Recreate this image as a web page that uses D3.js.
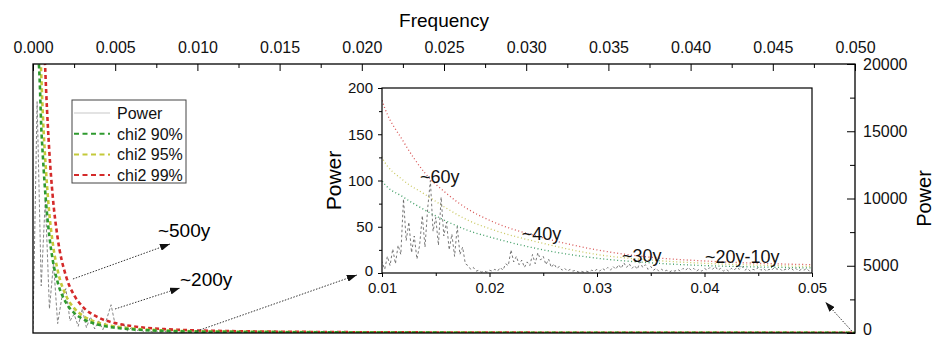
<!DOCTYPE html>
<html>
<head>
<meta charset="utf-8">
<script src="https://cdn.jsdelivr.net/npm/d3@7"></script>
<style>
  body { margin: 0; background: #fff; }
  svg { display: block; font-family: 'Liberation Sans', Arial, sans-serif; }
</style>
</head>
<body>
<div id="chart"></div>
<script>
// power spectrum, one value every freqStep (0 .. 0.05)
const freqStep = 0.00025
const power = [
  300, 17200, 3500, 10000, 1800, 5200, 700, 2600,
  3300, 900, 1400, 500, 1800, 400, 1200, 300,
  900, 250, 1100, 2100, 600, 350, 700, 150,
  400, 120, 300, 90, 220, 80, 160, 60,
  130, 40, 90, 30, 70, 20, 45, 15,
  12, 4, 18, 8, 26, 10, 30, 20,
  80, 35, 55, 22, 40, 15, 30, 62,
  28, 70, 100, 45, 60, 30, 82, 40,
  55, 25, 42, 18, 50, 20, 28, 10,
  8, 4, 6, 2, 3, 1, 2, 1,
  3, 2, 4, 2, 6, 3, 10, 8,
  25, 12, 18, 9, 14, 6, 12, 8,
  20, 10, 22, 14, 18, 9, 15, 6,
  10, 5, 7, 3, 5, 2, 4, 2,
  3, 1, 2, 1, 2, 1, 3, 2,
  4, 2, 5, 3, 6, 3, 7, 4,
  9, 5, 11, 6, 10, 5, 8, 4,
  12, 6, 9, 4, 7, 3, 5, 2,
  4, 2, 3, 1, 3, 2, 4, 2,
  5, 3, 6, 3, 5, 2, 4, 2,
  5, 3, 6, 4, 7, 3, 5, 2,
  4, 2, 5, 3, 6, 4, 7, 3,
  5, 2, 4, 3, 6, 3, 5, 2,
  4, 3, 6, 4, 5, 2, 4, 3,
  6, 3, 5, 2, 4, 3, 5, 2,
  3
]

// chi2 significance levels
const chiFreq = [0.0003, 0.0004, 0.0005, 0.0006, 0.0008, 0.001, 0.0012, 0.0015, 0.002, 0.0025,
  0.003, 0.004, 0.005, 0.006, 0.008, 0.01, 0.012, 0.014, 0.016, 0.018,
  0.02, 0.025, 0.03, 0.035, 0.04, 0.045, 0.05]
const chi90 = [21000, 19000, 15400, 13150, 9600, 7150, 5430, 3780, 2270, 1500,
  1065, 610, 394, 275, 155, 100, 82, 68, 56, 46,
  39, 25, 16, 11, 8, 6.5, 5.5]
const chi95 = [26000, 22500, 19300, 16200, 11900, 8800, 6700, 4660, 2800, 1850,
  1310, 750, 485, 340, 190, 125, 100, 85, 70, 57,
  48, 32, 20, 14, 10.5, 8.5, 7]
const chi99 = [40000, 33400, 28800, 24600, 18000, 13360, 10160, 7060, 4250, 2810,
  1990, 1140, 736, 514, 290, 187, 142, 108, 86, 69,
  57, 38, 25, 17, 13, 10.5, 9]

const topTicks = [0, 0.005, 0.01, 0.015, 0.02, 0.025, 0.03, 0.035, 0.04, 0.045, 0.05]
const rightTicks = [0, 5000, 10000, 15000, 20000]
const insetXTicks = [0.01, 0.02, 0.03, 0.04, 0.05]
const insetYTicks = [0, 50, 100, 150, 200]

const width = 934
const height = 340
const plot = { left: 33, right: 855, top: 64, bottom: 333 }
const inset = { left: 382, right: 812, top: 88, bottom: 273 }

const svg = d3
  .select('#chart')
  .append('svg')
  .attr('width', width)
  .attr('height', height)

const x = d3.scaleLinear().domain([0, 0.05]).range([plot.left, plot.right])
const y = d3.scaleLinear().domain([0, 20000]).range([plot.bottom, plot.top])
const ix = d3.scaleLinear().domain([0.01, 0.05]).range([inset.left, inset.right])
const iy = d3.scaleLinear().domain([0, 200]).range([inset.bottom, inset.top])

const spectrum = power.map((p, i) => ({ f: i * freqStep, p: p }))
const chi = chiFreq.map((f, i) => ({ f: f, c90: chi90[i], c95: chi95[i], c99: chi99[i] }))

const series = [
  { key: 'c99', label: 'chi2 99%', color: '#d42a2a', dot: '#d85555' },
  { key: 'c95', label: 'chi2 95%', color: '#c4c93a', dot: '#c9c860' },
  { key: 'c90', label: 'chi2 90%', color: '#2f9a2f', dot: '#3c9c62' }
]

const defs = svg.append('defs')
defs.append('clipPath').attr('id', 'main-clip')
  .append('rect')
  .attr('x', plot.left).attr('y', plot.top)
  .attr('width', plot.right - plot.left).attr('height', plot.bottom - plot.top)
defs.append('clipPath').attr('id', 'inset-clip')
  .append('rect')
  .attr('x', inset.left).attr('y', inset.top)
  .attr('width', inset.right - inset.left).attr('height', inset.bottom - inset.top)
defs.append('marker')
  .attr('id', 'arrow')
  .attr('markerUnits', 'userSpaceOnUse')
  .attr('markerWidth', 10).attr('markerHeight', 7)
  .attr('refX', 10).attr('refY', 3.5)
  .attr('orient', 'auto')
  .append('path')
  .attr('d', 'M0,0 L10,3.5 L0,7 Z')
  .attr('fill', '#111')

/* main plot */
const main = svg.append('g').attr('clip-path', 'url(#main-clip)')

main.append('path')
  .datum(spectrum)
  .attr('fill', 'none')
  .attr('stroke', '#777')
  .attr('stroke-width', 0.9)
  .attr('stroke-dasharray', '3,2')
  .attr('d', d3.line().x(d => x(d.f)).y(d => y(d.p)))

series.forEach(s => {
  main.append('path')
    .datum(chi)
    .attr('fill', 'none')
    .attr('stroke', s.color)
    .attr('stroke-width', 2.6)
    .attr('stroke-dasharray', '4,3')
    .attr('d', d3.line().curve(d3.curveMonotoneX).x(d => x(d.f)).y(d => y(d[s.key])))
})

svg.append('rect')
  .attr('x', plot.left).attr('y', plot.top)
  .attr('width', plot.right - plot.left).attr('height', plot.bottom - plot.top)
  .attr('fill', 'none')
  .attr('stroke', '#000')
  .attr('stroke-width', 1.3)

function styleAxis(g, size) {
  g.attr('font-family', null).attr('font-size', size)
  g.select('.domain').remove()
  g.selectAll('text').attr('fill', '#111')
  g.selectAll('line').attr('stroke', '#000')
}

// top frequency axis
svg.append('g')
  .attr('transform', 'translate(0,' + plot.top + ')')
  .call(d3.axisTop(x).tickValues(topTicks).tickFormat(d3.format('.3f')).tickSize(-7).tickPadding(11))
  .call(g => styleAxis(g, 16))
svg.append('g')
  .attr('transform', 'translate(0,' + plot.top + ')')
  .call(d3.axisTop(x).tickValues(topTicks.slice(1).map(t => t - 0.0025)).tickFormat('').tickSize(-4))
  .call(g => styleAxis(g, 16))

svg.append('text')
  .attr('x', (plot.left + plot.right) / 2)
  .attr('y', 27)
  .attr('text-anchor', 'middle')
  .attr('font-size', 19)
  .text('Frequency')

// right power axis
svg.append('g')
  .attr('transform', 'translate(' + plot.right + ',0)')
  .call(d3.axisRight(y).tickValues(rightTicks).tickFormat(d3.format('d')).tickSize(-8).tickPadding(8))
  .call(g => styleAxis(g, 16))
  .call(g => g.selectAll('text').filter(d => d === 0).attr('dy', '0.1em'))
svg.append('g')
  .attr('transform', 'translate(' + plot.right + ',0)')
  .call(d3.axisRight(y).tickValues(rightTicks.slice(1).map(t => t - 2500)).tickFormat('').tickSize(-5))
  .call(g => styleAxis(g, 16))

svg.append('text')
  .attr('transform', 'translate(931,' + (plot.top + plot.bottom) / 2 + ') rotate(-90)')
  .attr('text-anchor', 'middle')
  .attr('font-size', 20)
  .text('Power')

/* legend */
const legend = svg.append('g')
legend.append('rect')
  .attr('x', 72).attr('y', 100)
  .attr('width', 114).attr('height', 83)
  .attr('fill', '#fff')
  .attr('stroke', '#444')
  .attr('stroke-width', 1)

const legendRows = [{ label: 'Power', color: '#c8c8c8', dash: null }]
  .concat(series.slice().reverse().map(s => ({ label: s.label, color: s.color, dash: '5,3.5' })))

legendRows.forEach((r, i) => {
  const cy = 113 + i * 20.7
  legend.append('line')
    .attr('x1', 74).attr('x2', 110)
    .attr('y1', cy).attr('y2', cy)
    .attr('stroke', r.color)
    .attr('stroke-width', r.dash ? 2 : 1.2)
    .attr('stroke-dasharray', r.dash)
  legend.append('text')
    .attr('x', 117).attr('y', cy + 6)
    .attr('font-size', 16)
    .attr('fill', '#111')
    .text(r.label)
})

/* arrows and period labels on the main plot */
const arrows = [
  [0.00243, 4015, 0.00833, 6617],
  [0.00499, 1784, 0.00894, 3346],
  [0.00998, 150, 0.0197, 4312],
  [0.0498, 150, 0.0482, 2305]
]
arrows.forEach(a => {
  svg.append('line')
    .attr('x1', x(a[0])).attr('y1', y(a[1]))
    .attr('x2', x(a[2])).attr('y2', y(a[3]))
    .attr('stroke', '#333')
    .attr('stroke-width', 1)
    .attr('stroke-dasharray', '1.5,1.5')
    .attr('marker-end', 'url(#arrow)')
})

svg.append('text').attr('x', x(0.0076)).attr('y', y(7138)).attr('font-size', 19).text('~500y')
svg.append('text').attr('x', x(0.00894)).attr('y', y(3494)).attr('font-size', 19).text('~200y')

/* inset */
svg.append('rect')
  .attr('x', inset.left).attr('y', inset.top)
  .attr('width', inset.right - inset.left).attr('height', inset.bottom - inset.top)
  .attr('fill', '#fff')

const ins = svg.append('g').attr('clip-path', 'url(#inset-clip)')

series.forEach(s => {
  ins.append('path')
    .datum(chi.filter(d => d.f >= 0.008))
    .attr('fill', 'none')
    .attr('stroke', s.dot)
    .attr('stroke-width', 1.3)
    .attr('stroke-dasharray', '1,2.5')
    .attr('d', d3.line().curve(d3.curveMonotoneX).x(d => ix(d.f)).y(d => iy(d[s.key])))
})

ins.append('path')
  .datum(spectrum.filter(d => d.f >= 0.0095))
  .attr('fill', 'none')
  .attr('stroke', '#555')
  .attr('stroke-width', 0.8)
  .attr('stroke-dasharray', '2.5,2.5')
  .attr('d', d3.line().x(d => ix(d.f)).y(d => iy(d.p)))

svg.append('rect')
  .attr('x', inset.left).attr('y', inset.top)
  .attr('width', inset.right - inset.left).attr('height', inset.bottom - inset.top)
  .attr('fill', 'none')
  .attr('stroke', '#000')
  .attr('stroke-width', 1.2)

svg.append('g')
  .attr('transform', 'translate(0,' + inset.bottom + ')')
  .call(d3.axisBottom(ix).tickValues(insetXTicks).tickFormat(d3.format('.2f')).tickSize(4).tickPadding(5))
  .call(g => styleAxis(g, 15))
svg.append('g')
  .attr('transform', 'translate(0,' + inset.bottom + ')')
  .call(d3.axisBottom(ix).tickValues(insetXTicks.slice(1).map(t => t - 0.005)).tickFormat('').tickSize(3))
  .call(g => styleAxis(g, 15))

svg.append('g')
  .attr('transform', 'translate(' + inset.left + ',0)')
  .call(d3.axisLeft(iy).tickValues(insetYTicks).tickSize(4).tickPadding(5))
  .call(g => styleAxis(g, 15))
  .call(g => g.selectAll('text').filter(d => d === 0).attr('dy', '0.15em'))
svg.append('g')
  .attr('transform', 'translate(' + inset.left + ',0)')
  .call(d3.axisLeft(iy).tickValues(insetYTicks.slice(1).map(t => t - 25)).tickFormat('').tickSize(3))
  .call(g => styleAxis(g, 15))

svg.append('text')
  .attr('transform', 'translate(341,' + (inset.top + inset.bottom) / 2 + ') rotate(-90)')
  .attr('text-anchor', 'middle')
  .attr('font-size', 21)
  .text('Power')

const insetLabels = [
  ['~60y', 0.01353, 97],
  ['~40y', 0.0230, 36],
  ['~30y', 0.03233, 12],
  ['~20y-10y', 0.04005, 11]
]
insetLabels.forEach(l => {
  svg.append('text')
    .attr('x', ix(l[1])).attr('y', iy(l[2]))
    .attr('font-size', 18)
    .attr('fill', '#111')
    .text(l[0])
})
</script>
</body>
</html>
